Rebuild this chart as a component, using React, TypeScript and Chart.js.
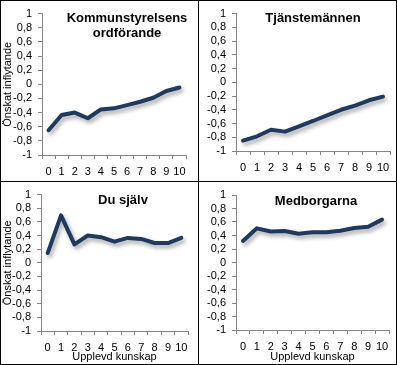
import React, { useEffect, useRef } from 'react';
import { Chart, registerables } from 'chart.js';

Chart.register(...registerables);

// ---- Data ----
const categories = ['0', '1', '2', '3', '4', '5', '6', '7', '8', '9', '10'];
const kommunstyrelsensValues = [-0.65, -0.435, -0.4, -0.48, -0.355, -0.34, -0.295, -0.247, -0.19, -0.095, -0.045];
const tjanstemannenValues = [-0.85, -0.786, -0.69, -0.718, -0.64, -0.563, -0.48, -0.4, -0.34, -0.262, -0.209];
const duSjalvValues = [0.143, 0.695, 0.27, 0.4, 0.375, 0.31, 0.365, 0.35, 0.29, 0.29, 0.365];
const medborgarnaValues = [0.32, 0.506, 0.46, 0.467, 0.427, 0.447, 0.447, 0.47, 0.51, 0.53, 0.635];
const yMin = -1;
const yMax = 1;
const yStep = 0.2;
const yAxisTitle = 'Önskat inflytande';
const xAxisTitle = 'Upplevd kunskap';

const FONT = '"Liberation Sans", Arial, sans-serif';
const AXIS_GRAY = '#868686';
const LINE_COLOR = '#1F3A5E';

const titlePlugin = {
  id: 'panelTitle',
  afterDraw(chart: any, _args: any, opts: any) {
    const ctx = chart.ctx;
    ctx.save();
    ctx.font = `bold 13px ${FONT}`;
    ctx.fillStyle = '#000';
    ctx.textAlign = 'center';
    ctx.textBaseline = 'middle';
    (opts.lines || []).forEach((l: string, i: number) => {
      ctx.fillText(l, opts.x, opts.y + i * 15);
    });
    ctx.restore();
  },
};

const shadowPlugin = {
  id: 'lineShadow',
  beforeDatasetsDraw(chart: any) {
    const ctx = chart.ctx;
    ctx.save();
    ctx.shadowColor = 'rgba(0,0,0,0.35)';
    ctx.shadowBlur = 4;
    ctx.shadowOffsetX = 2;
    ctx.shadowOffsetY = 3;
  },
  afterDatasetsDraw(chart: any) {
    chart.ctx.restore();
  },
};

type PanelProps = {
  box: { left: number; top: number; width: number; height: number };
  area: { left: number; right: number; top: number; bottom: number };
  titleLines: string[];
  titlePos: { x: number; y: number };
  values: number[];
  showYTitle: boolean;
  showXTitle: boolean;
};

function Panel(p: PanelProps) {
  const ref = useRef<HTMLCanvasElement | null>(null);
  useEffect(() => {
    if (!ref.current) return;
    const yWidth = p.area.left;
    const xHeight = p.box.height - p.area.bottom;
    const chart = new Chart(ref.current, {
      type: 'line',
      data: {
        labels: categories,
        datasets: [
          {
            data: p.values,
            borderColor: LINE_COLOR,
            borderWidth: 4,
            borderJoinStyle: 'round',
            borderCapStyle: 'round',
            pointRadius: 0,
            tension: 0,
            fill: false,
          },
        ],
      },
      options: {
        animation: false,
        responsive: false,
        maintainAspectRatio: false,
        layout: {
          padding: { left: 0, top: p.area.top, right: p.box.width - p.area.right, bottom: 0 },
        },
        plugins: {
          legend: { display: false },
          tooltip: { enabled: false },
          panelTitle: { lines: p.titleLines, x: p.titlePos.x, y: p.titlePos.y },
        } as any,
        scales: {
          x: {
            type: 'category',
            offset: true,
            grid: {
              offset: true,
              drawOnChartArea: false,
              drawTicks: true,
              tickLength: 4,
              color: AXIS_GRAY,
            },
            border: { color: AXIS_GRAY, width: 1 },
            ticks: {
              autoSkip: false,
              maxRotation: 0,
              minRotation: 0,
              padding: 6,
              color: '#000',
              font: { family: FONT, size: 11 },
            },
            title: {
              display: p.showXTitle,
              text: xAxisTitle,
              color: '#000',
              font: { family: FONT, size: 11 },
              padding: 0,
            },
            afterFit: (s: any) => {
              s.height = xHeight;
            },
          },
          y: {
            min: yMin,
            max: yMax,
            grid: {
              drawOnChartArea: false,
              drawTicks: true,
              tickLength: 4,
              color: AXIS_GRAY,
            },
            border: { color: AXIS_GRAY, width: 1 },
            ticks: {
              stepSize: yStep,
              autoSkip: false,
              padding: 6,
              color: '#000',
              font: { family: FONT, size: 11 },
              callback: (v: any) => {
                const r = Math.round(Number(v) * 10) / 10;
                return String(r === 0 ? 0 : r).replace('.', ',');
              },
            },
            title: {
              display: p.showYTitle,
              text: yAxisTitle,
              color: '#000',
              font: { family: FONT, size: 11 },
              padding: 0,
            },
            afterFit: (s: any) => {
              s.width = yWidth;
            },
          },
        },
      } as any,
      plugins: [shadowPlugin, titlePlugin],
    });
    return () => chart.destroy();
  }, []);
  return (
    <canvas
      ref={ref}
      width={p.box.width}
      height={p.box.height}
      style={{
        position: 'absolute',
        left: p.box.left,
        top: p.box.top,
        width: p.box.width,
        height: p.box.height,
      }}
    />
  );
}

export default function App() {
  return (
    <div
      style={{
        position: 'fixed',
        left: 0,
        top: 0,
        width: 397,
        height: 365,
        background: '#fff',
        overflow: 'hidden',
      }}
    >
      <Panel
        box={{ left: 1, top: 1, width: 197, height: 180 }}
        area={{ left: 41, right: 185, top: 12, bottom: 154 }}
        titleLines={['Kommunstyrelsens', 'ordförande']}
        titlePos={{ x: 126, y: 17 }}
        values={kommunstyrelsensValues}
        showYTitle={true}
        showXTitle={false}
      />
      <Panel
        box={{ left: 199, top: 1, width: 197, height: 180 }}
        area={{ left: 37, right: 191, top: 12, bottom: 150 }}
        titleLines={['Tjänstemännen']}
        titlePos={{ x: 114, y: 17.5 }}
        values={tjanstemannenValues}
        showYTitle={false}
        showXTitle={false}
      />
      <Panel
        box={{ left: 1, top: 182, width: 197, height: 182 }}
        area={{ left: 40, right: 187, top: 12, bottom: 149 }}
        titleLines={['Du själv']}
        titlePos={{ x: 122, y: 18.5 }}
        values={duSjalvValues}
        showYTitle={true}
        showXTitle={true}
      />
      <Panel
        box={{ left: 199, top: 182, width: 197, height: 182 }}
        area={{ left: 37, right: 190, top: 13, bottom: 148 }}
        titleLines={['Medborgarna']}
        titlePos={{ x: 117, y: 19 }}
        values={medborgarnaValues}
        showYTitle={false}
        showXTitle={true}
      />
      <div style={{ position: 'absolute', left: 0, top: 0, width: 397, height: 365, boxSizing: 'border-box', border: '1px solid #000', pointerEvents: 'none' }} />
      <div style={{ position: 'absolute', left: 198, top: 0, width: 1, height: 365, background: '#000' }} />
      <div style={{ position: 'absolute', left: 0, top: 181, width: 397, height: 1, background: '#000' }} />
    </div>
  );
}
